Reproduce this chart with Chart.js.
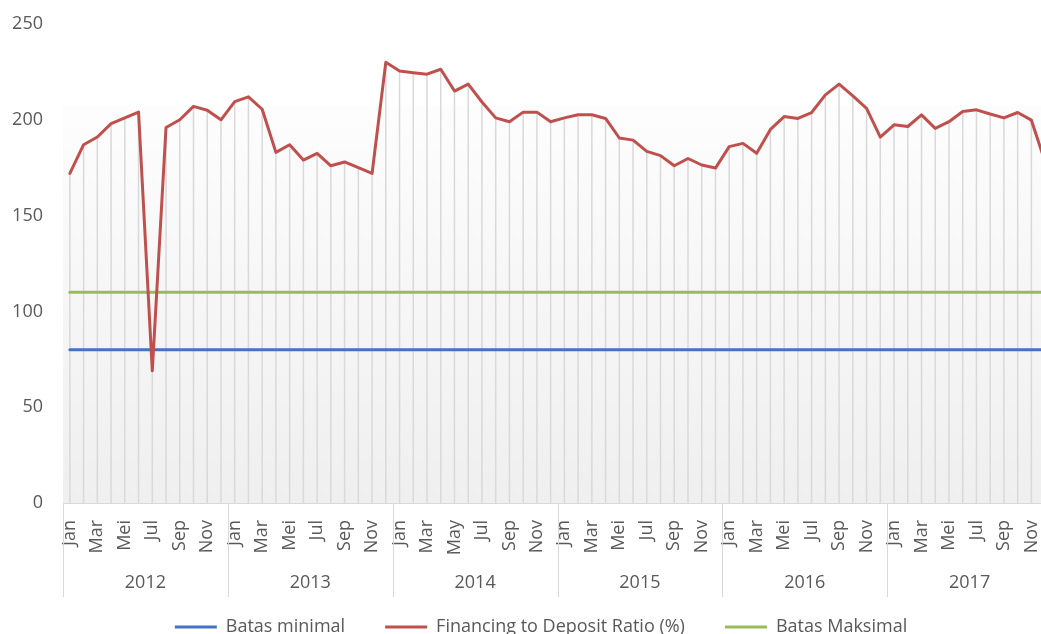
<!DOCTYPE html>
<html>
<head>
<meta charset="utf-8">
<title>Financing to Deposit Ratio</title>
<script src="https://cdn.jsdelivr.net/npm/chart.js@4.4.1/dist/chart.umd.min.js"></script>
<style>
  html, body { margin: 0; padding: 0; background: #fff; overflow: hidden; }
  #wrap { position: relative; width: 1052px; height: 646px; }
</style>
</head>
<body>
<div id="wrap"><canvas id="fdrChart"></canvas></div>
<script>
// Categories
const years = ['2012', '2013', '2014', '2015', '2016', '2017'];
const monthNames = ['Jan', 'Feb', 'Mar', 'Apr', 'Mei', 'Jun', 'Jul', 'Agu', 'Sep', 'Okt', 'Nov', 'Des'];
// the 2014 sheet was labelled in English ("May")
const monthNames2014 = ['Jan', 'Feb', 'Mar', 'Apr', 'May', 'Jun', 'Jul', 'Aug', 'Sep', 'Oct', 'Nov', 'Dec'];

// Financing to Deposit Ratio (%), per month
const fdr2012 = [172, 187, 191, 198, 201, 204, 69, 196, 200, 207, 205, 200];
const fdr2013 = [209.5, 212, 205.5, 183, 187, 179, 182.5, 176, 178, 175, 172, 230];
const fdr2014 = [225.5, 224.6, 223.8, 226.4, 215, 218.6, 209.3, 201, 199, 204, 204, 199];
const fdr2015 = [201, 202.6, 202.6, 200.7, 190.5, 189.4, 183.5, 181.3, 176, 179.8, 176.4, 174.8];
const fdr2016 = [186, 187.7, 182.5, 195, 201.7, 200.7, 203.8, 213, 218.6, 212.5, 206, 191];
const fdr2017 = [197.4, 196.5, 202.6, 195.5, 199, 204.3, 205.2, 203, 201, 203.8, 199.8, 178];

// limits
const batasMinimal = 80;
const batasMaksimal = 110;

// y axis
const yMin = 0;
const yMax = 250;
const yStep = 50;

const labels = years.flatMap((y) => (y === '2014' ? monthNames2014 : monthNames).map((m) => m + ' ' + y));
const fdr = [].concat(fdr2012, fdr2013, fdr2014, fdr2015, fdr2016, fdr2017);

const TEXT = '#595959';
const RULE = '#d9d9d9';
Chart.defaults.font.family = "'Open Sans', sans-serif";
Chart.defaults.font.size = 18;
Chart.defaults.color = TEXT;

// gradient plot background, drop lines, year row of the axis
const excelLook = {
  id: 'excelLook',
  afterLayout(chart) {
    // legend is centred a bit right of the canvas middle in the original
    const lg = chart.legend;
    if (lg) { lg.left += 10; lg.right += 10; }
  },
  beforeDraw(chart) {
    const { ctx, chartArea: a } = chart;
    const top = a.top + (a.bottom - a.top) * 0.17;
    const g = ctx.createLinearGradient(0, top, 0, a.bottom);
    g.addColorStop(0, '#fdfdfd');
    g.addColorStop(1, '#efefef');
    ctx.save();
    ctx.fillStyle = g;
    ctx.fillRect(a.left, top, a.right - a.left, a.bottom - top);
    ctx.restore();
  },
  beforeDatasetsDraw(chart) {
    const { ctx } = chart;
    const meta = chart.getDatasetMeta(1);
    const base = chart.scales.y.getPixelForValue(yMin);
    ctx.save();
    ctx.strokeStyle = RULE;
    ctx.lineWidth = 1.5;
    meta.data.forEach((pt) => {
      ctx.beginPath();
      ctx.moveTo(pt.x, pt.y);
      ctx.lineTo(pt.x, base);
      ctx.stroke();
    });
    ctx.restore();
  },
  afterDraw(chart) {
    const { ctx, chartArea: a } = chart;
    const x = chart.scales.x;
    const step = x.getPixelForValue(1) - x.getPixelForValue(0);
    ctx.save();
    ctx.strokeStyle = RULE;
    ctx.lineWidth = 1;
    ctx.fillStyle = TEXT;
    ctx.font = "18px 'Open Sans', sans-serif";
    ctx.textAlign = 'center';
    ctx.textBaseline = 'middle';
    years.forEach((y, k) => {
      const left = x.getPixelForValue(k * 12) - step / 2;
      ctx.beginPath();
      ctx.moveTo(Math.round(left) + 0.5, a.bottom);
      ctx.lineTo(Math.round(left) + 0.5, a.bottom + 94);
      ctx.stroke();
      const mid = (x.getPixelForValue(k * 12) + x.getPixelForValue(k * 12 + 11)) / 2;
      ctx.fillText(y, mid, a.bottom + 80);
    });
    ctx.restore();
  },
};

const line = (label, data, color, order) => ({
  label,
  data,
  borderColor: color,
  backgroundColor: color,
  borderWidth: 3,
  pointRadius: 0,
  tension: 0,
  borderJoinStyle: 'round',
  borderCapStyle: 'round',
  order,
});

new Chart(document.getElementById('fdrChart'), {
  type: 'line',
  data: {
    labels,
    datasets: [
      line('Batas minimal', labels.map(() => batasMinimal), '#4472c4', 2),
      line('Financing to Deposit Ratio (%)', fdr, '#c0504d', 0),
      line('Batas Maksimal', labels.map(() => batasMaksimal), '#9bbb59', 1),
    ],
  },
  options: {
    responsive: true,
    maintainAspectRatio: false,
    animation: false,
    layout: { padding: { left: 10, right: 0, top: 24, bottom: 0 } },
    plugins: {
      tooltip: { enabled: false },
      legend: {
        position: 'bottom',
        labels: {
          boxWidth: 42,
          boxHeight: 3,
          padding: 40,
          color: TEXT,
          font: { size: 18 },
          sort: (a, b) => a.datasetIndex - b.datasetIndex,
          generateLabels(chart) {
            const items = Chart.defaults.plugins.legend.labels.generateLabels(chart);
            items.forEach((it) => { it.lineWidth = 0; });
            return items;
          },
        },
      },
    },
    scales: {
      x: {
        offset: true,
        grid: { display: false, drawTicks: false },
        border: { display: true, color: RULE, width: 1 },
        ticks: {
          autoSkip: false,
          minRotation: 90,
          maxRotation: 90,
          padding: 17,
          color: TEXT,
          font: { size: 18 },
          callback: (v, i) => (i % 2 === 0 ? labels[i].split(' ')[0] : ''),
        },
        afterFit(s) {
          s.height = 75;
          s.paddingLeft = 0;
          s.paddingRight = 0;
        },
      },
      y: {
        min: yMin,
        max: yMax,
        grid: { display: false, drawTicks: false },
        border: { display: false },
        ticks: { stepSize: yStep, padding: 20, color: TEXT, font: { size: 18 } },
        afterFit(s) {
          s.width = 53;
          s.paddingTop = 0;
          s.paddingBottom = 0;
        },
      },
    },
  },
  plugins: [excelLook],
});
</script>
</body>
</html>
